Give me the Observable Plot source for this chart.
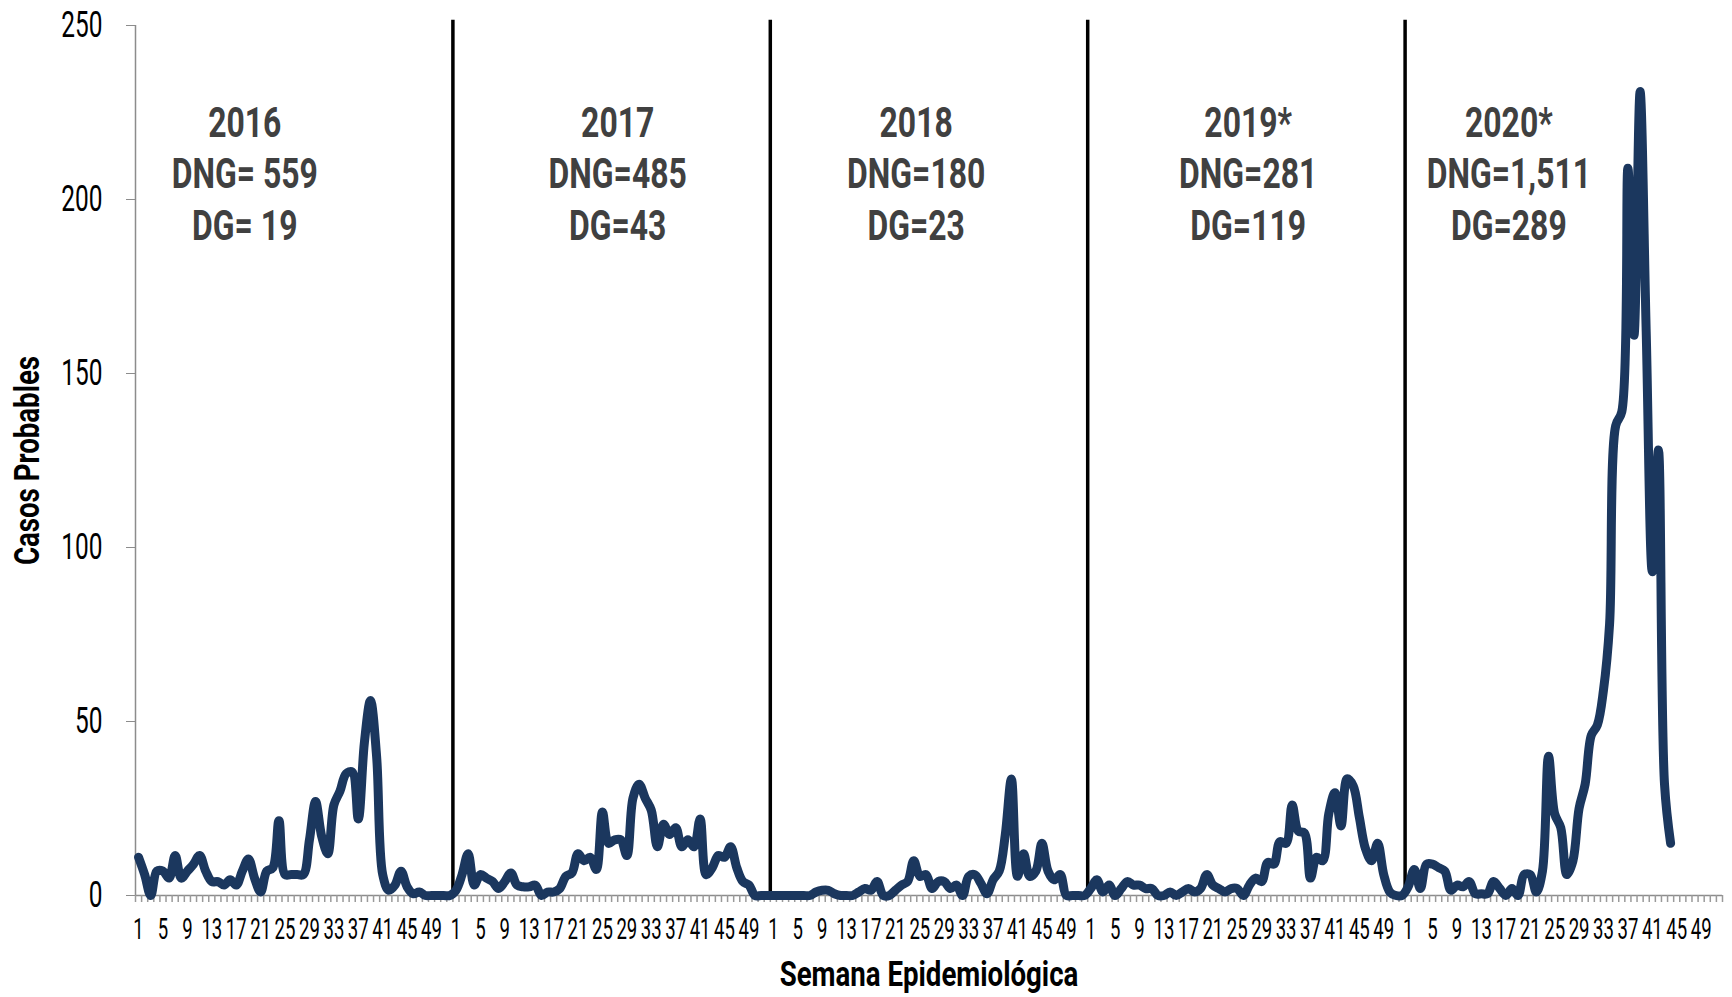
<!DOCTYPE html>
<html>
<head>
<meta charset="utf-8">
<script src="https://cdn.jsdelivr.net/npm/d3@7"></script>
<script src="https://cdn.jsdelivr.net/npm/@observablehq/plot@0.6"></script>
<style>
  html, body { margin: 0; padding: 0; background: #fff; }
  #chart { width: 1732px; height: 997px; }
</style>
</head>
<body>
<div id="chart"></div>
<script>
// ---- data (weekly probable dengue cases) ----
const years = ["2016", "2017", "2018", "2019*", "2020*"];
const weeksPerYear = 52;
const cases2016 = [11,6,0,7,7,5,11.5,5,7,9,11.5,7,4,4,3,4.5,3,7,10.5,5,1,7,8,21.5,6,6,6,6,16,27,17,12,26,30,35,35.5,22,44,56,40,6,1.5,3,7,2.5,0.5,1,0,0,0,0,0];
const cases2017 = [1.5,6,12,3,6,5,4,2,4,6.5,3,2.5,2.5,3,0,1,1,2,5.5,6.5,12,10,11,7.5,24,15,16,16,11.5,28,32,28,24.5,14,20.5,17.5,19.5,14,16,14,22,6,8,11.5,11,14,8,4,3,0,0,0];
const cases2018 = [0,0,0,0,0,0,0,1,1.5,1.5,0.5,0,0,0,1,2,1.5,4,0,0,1.5,3,4,10,5.5,6,2,4,4,2,3,0,5.5,6,3.5,0.5,4.5,7,17.5,33.5,5.5,12,5.5,7,15,7,4.5,6,0,0,0,0];
const cases2019 = [2,4.5,1,3,0,2,4,3,3,2,2,0,0,1,0,1,2,1,2,6,3,2,1,2,2,0,3,5,4,9.5,9,15.5,15,26,18.5,18,5,11,10,23.5,29.5,20,33.5,31.5,22.5,13.5,10,15,6,1,0,0];
const cases2020 = [2.5,7.5,2,9,9,8,7,1.5,3,2.5,4,0.5,0.5,0.5,4,2,0,2,0,6,6,1,7,40,23.5,19.5,6,10,25,32,46,49,59,78,135,139,209,161,231,162,93,128,32,15];
const seriesByYear = [cases2016, cases2017, cases2018, cases2019, cases2020];
const dngTotals = ["DNG= 559", "DNG=485", "DNG=180", "DNG=281", "DNG=1,511"];
const dgTotals = ["DG= 19", "DG=43", "DG=23", "DG=119", "DG=289"];
const yTicks = [0, 50, 100, 150, 200, 250];
const weekLabelStep = 4;

// ---- annotation placement (week position within each year, value height) ----
const annWeek = [18.4, 27.5, 24.4, 26.8, 17.5];
const annY = 208;

// ---- derived tables ----
const points = seriesByYear.flatMap((arr, yi) =>
  arr.map((v, w) => ({ i: yi * weeksPerYear + w, v })));
const nCat = years.length * weeksPerYear;
const labelIdx = d3.range(0, nCat).filter(i => (i % weeksPerYear) % weekLabelStep === 0);
const boundaries = d3.range(-0.5, nCat, 1);
const separators = d3.range(1, years.length).map(k => k * weeksPerYear - 0.5);
const annotations = years.map((y, k) => ({
  x: k * weeksPerYear + annWeek[k] - 1,
  y: annY,
  text: `${y}\n${dngTotals[k]}\n${dgTotals[k]}`
}));

const FONT = 'Roboto, "Liberation Sans", sans-serif';
// horizontal condensing per font size (to imitate a narrow display face)
const condense = { 37: 0.66, 29: 0.64, 42: 0.76, 35: 0.79 };

const chart = Plot.plot({
  width: 1732,
  height: 997,
  marginLeft: 135,
  marginRight: 10,
  marginTop: 25,
  marginBottom: 102,
  style: { fontFamily: FONT, background: "white", overflow: "visible" },
  x: { domain: [-0.5, nCat - 0.5], axis: null },
  y: { domain: [0, 250], axis: null },
  marks: [
    // y axis line and ticks
    Plot.ruleX([-0.5], { y1: 0, y2: 250, stroke: "#8c8c8c", strokeWidth: 1.5 }),
    Plot.axisY({ ticks: yTicks, tickSize: 9, tickPadding: 24, stroke: "#8c8c8c", color: "black", fontSize: 37, tickFormat: d => String(d) }),
    // x axis line, minor ticks, labels
    Plot.ruleY([0], { stroke: "#8c8c8c", strokeWidth: 1.5 }),
    Plot.axisX({ ticks: boundaries, tickSize: 7, tickFormat: () => "", stroke: "#9a9a9a", strokeWidth: 1.5 }),
    Plot.axisX({ ticks: labelIdx, tickSize: 7, tickPadding: 16, stroke: "none", color: "black", fontSize: 29, tickFormat: i => String((i % weeksPerYear) + 1) }),
    // year separators
    Plot.ruleX(separators, { y1: 0, y2: 251.5, stroke: "black", strokeWidth: 3.5 }),
    // series
    Plot.line(points, { x: "i", y: "v", curve: "catmull-rom", stroke: "#1b375e", strokeWidth: 9, strokeLinejoin: "round", strokeLinecap: "round" }),
    // year annotations
    Plot.text(annotations, { x: "x", y: "y", text: "text", fill: "#404040", fontSize: 42, fontWeight: "bold", lineHeight: 1.226, textAnchor: "middle", lineAnchor: "middle" }),
    // axis titles
    Plot.text(["Casos Probables"], { frameAnchor: "left", dx: -108, rotate: -90, textAnchor: "middle", lineAnchor: "middle", fill: "black", fontSize: 35, fontWeight: "bold" }),
    Plot.text(["Semana Epidemiológica"], { frameAnchor: "bottom", dy: 79, textAnchor: "middle", lineAnchor: "middle", fill: "black", fontSize: 35, fontWeight: "bold" })
  ]
});
document.getElementById("chart").appendChild(chart);

// condense glyphs horizontally around each text's own anchor
chart.querySelectorAll("text").forEach(t => {
  let g = t;
  while (g && g !== chart && !g.getAttribute("font-size")) g = g.parentNode;
  const fs = g && g.getAttribute ? parseFloat(g.getAttribute("font-size")) : NaN;
  const s = condense[fs];
  if (!s) return;
  const x = parseFloat(t.getAttribute("x")) || 0;
  const y = parseFloat(t.getAttribute("y")) || 0;
  const tr = t.getAttribute("transform") || "";
  t.setAttribute("transform", `${tr} translate(${x},${y}) scale(${s},1) translate(${-x},${-y})`);
});
</script>
</body>
</html>
